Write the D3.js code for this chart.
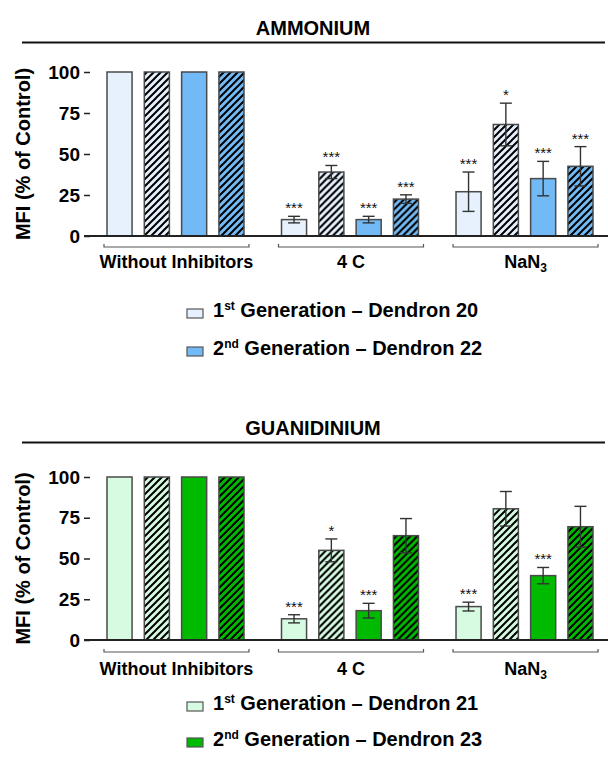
<!DOCTYPE html>
<html>
<head>
<meta charset="utf-8">
<script src="https://cdn.jsdelivr.net/npm/d3@7"></script>
<style>
  body { margin: 0; background: #fff; }
  svg { display: block; font-family: "Liberation Sans", Arial, sans-serif; }
</style>
</head>
<body>
<svg width="608" height="759"></svg>
<script>
// grupos y series
var groups = ["Without Inhibitors", "4 C", "NaN3"];
var series = ["gen1", "gen1_hatch", "gen2", "gen2_hatch"];
var yTicks = [0, 25, 50, 75, 100];

// AMMONIUM
var ammoniumValues = [[100, 100, 100, 100], [10, 39, 10, 22.5], [27, 68, 35, 42.5]];
var ammoniumErrors = [[0, 0, 0, 0], [2, 4, 2, 2.6], [12, 13, 10.5, 12]];
var ammoniumStars = [["", "", "", ""], ["***", "***", "***", "***"], ["***", "*", "***", "***"]];
var ammoniumLegend = ["Dendron 20", "Dendron 22"];

// GUANIDINIUM
var guanValues = [[100, 100, 100, 100], [13, 55, 18, 64], [20.5, 80.5, 39.5, 69.5]];
var guanErrors = [[0, 0, 0, 0], [2.5, 7, 4.5, 10.5], [2.7, 10.6, 5, 12.5]];
var guanStars = [["", "", "", ""], ["***", "*", "***", ""], ["***", "", "***", ""]];
var guanLegend = ["Dendron 21", "Dendron 23"];

var svg = d3.select("svg");
var defs = svg.append("defs");

function hatch(id, bg) {
  var p = defs.append("pattern")
    .attr("id", id)
    .attr("patternUnits", "userSpaceOnUse")
    .attr("width", 7).attr("height", 7);
  p.append("rect").attr("width", 7).attr("height", 7).attr("fill", bg);
  p.append("path")
    .attr("d", "M-1,1 l2,-2 M0,7 l7,-7 M6,8 l2,-2")
    .attr("stroke", "#000")
    .attr("stroke-width", 2);
}

hatch("hLightBlue", "#e6f1fd");
hatch("hBlue", "#72baf5");
hatch("hLightGreen", "#d6fbe1");
hatch("hGreen", "#00ba00");

var x0 = d3.scaleBand().domain(groups).range([107, 593]).paddingInner(0.215);
var x1 = d3.scaleBand().domain(series).range([0, x0.bandwidth()]).paddingInner(0.328);

function panel(cfg) {
  var g = svg.append("g");
  var y = d3.scaleLinear().domain([0, 100]).range(cfg.yRange);

  g.append("text")
    .attr("x", 313).attr("y", cfg.titleY)
    .attr("text-anchor", "middle")
    .style("font-size", "20px").style("font-weight", "bold")
    .text(cfg.title);

  g.append("line")
    .attr("x1", 22).attr("x2", 605)
    .attr("y1", cfg.titleY + 7.5).attr("y2", cfg.titleY + 7.5)
    .attr("stroke", "#111").attr("stroke-width", 2);

  // eje y
  var ax = g.append("g")
    .attr("transform", "translate(90,0)")
    .call(d3.axisLeft(y).tickValues(yTicks).tickSize(6).tickPadding(4));
  ax.select(".domain").remove();
  ax.selectAll(".tick line").attr("stroke", "#222").attr("stroke-width", 1.5);
  ax.selectAll(".tick text")
    .attr("fill", "#000")
    .style("font-size", "19px").style("font-weight", "bold")
    .style("font-family", "Liberation Sans, Arial, sans-serif");

  g.append("text")
    .attr("transform", "translate(30," + ((cfg.yRange[0] + cfg.yRange[1]) / 2) + ") rotate(-90)")
    .attr("text-anchor", "middle")
    .style("font-size", "20px").style("font-weight", "bold")
    .text("MFI (% of Control)");

  var rows = groups.map(function(grp, i) {
    return series.map(function(s, j) {
      return {group: grp, key: s, value: cfg.values[i][j], err: cfg.errors[i][j], star: cfg.stars[i][j]};
    });
  });

  var fills = {gen1: cfg.light, gen1_hatch: "url(#" + cfg.lightHatch + ")", gen2: cfg.dark, gen2_hatch: "url(#" + cfg.darkHatch + ")"};

  var grp = g.selectAll(".grp")
    .data(rows)
    .enter().append("g")
    .attr("class", "grp")
    .attr("transform", function(d) { return "translate(" + x0(d[0].group) + ",0)"; });

  var bar = grp.selectAll(".bar")
    .data(function(d) { return d; })
    .enter().append("g")
    .attr("class", "bar");

  bar.append("rect")
    .attr("x", function(d) { return x1(d.key); })
    .attr("y", function(d) { return y(d.value); })
    .attr("width", x1.bandwidth())
    .attr("height", function(d) { return y(0) - y(d.value); })
    .attr("fill", function(d) { return fills[d.key]; })
    .attr("stroke", "#4a4a4a")
    .attr("stroke-width", 1.5);

  var eb = bar.filter(function(d) { return d.err > 0; });
  var cx = function(d) { return x1(d.key) + x1.bandwidth() / 2; };

  eb.append("line")
    .attr("x1", cx).attr("x2", cx)
    .attr("y1", function(d) { return y(d.value - d.err); })
    .attr("y2", function(d) { return y(d.value + d.err); })
    .attr("stroke", "#333").attr("stroke-width", 1.4);
  [-1, 1].forEach(function(sg) {
    eb.append("line")
      .attr("x1", function(d) { return cx(d) - 6; })
      .attr("x2", function(d) { return cx(d) + 6; })
      .attr("y1", function(d) { return y(d.value + sg * d.err); })
      .attr("y2", function(d) { return y(d.value + sg * d.err); })
      .attr("stroke", "#333").attr("stroke-width", 1.4);
  });

  bar.filter(function(d) { return d.star !== ""; })
    .append("text")
    .attr("x", cx)
    .attr("y", function(d) { return y(d.value + d.err) - 3; })
    .attr("text-anchor", "middle")
    .attr("fill", "#111")
    .style("font-size", "15px")
    .text(function(d) { return d.star; });

  // linea base
  g.append("line")
    .attr("x1", 84).attr("x2", 608)
    .attr("y1", y(0)).attr("y2", y(0))
    .attr("stroke", "#222").attr("stroke-width", 2);

  // corchetes de grupo
  var by = y(0) + cfg.bracketGap;
  groups.forEach(function(name) {
    var a = x0(name) - 3, b = x0(name) + x0.bandwidth() + 5;
    g.append("path")
      .attr("d", "M" + a + "," + (by - 3) + "V" + by + "H" + b + "V" + (by - 3))
      .attr("fill", "none").attr("stroke", "#555").attr("stroke-width", 1.2);
    var t = g.append("text")
      .attr("x", (a + b) / 2).attr("y", by + cfg.labelGap)
      .attr("text-anchor", "middle")
      .style("font-size", "18px").style("font-weight", "bold");
    if (name === "NaN3") {
      t.append("tspan").text("NaN");
      t.append("tspan").attr("dy", 4).style("font-size", "12px").text("3");
    } else {
      t.text(name);
    }
  });

  // leyenda
  var legSup = ["st", "nd"];
  var legNum = ["1", "2"];
  var legCol = [cfg.light, cfg.dark];
  cfg.legend.forEach(function(lab, i) {
    var ly = cfg.legendY[i];
    g.append("rect")
      .attr("x", 187).attr("y", ly - 8)
      .attr("width", 16).attr("height", 9)
      .attr("fill", legCol[i]).attr("stroke", "#555").attr("stroke-width", 1.2);
    var t = g.append("text")
      .attr("x", 213).attr("y", ly)
      .style("font-size", "20px").style("font-weight", "bold");
    t.append("tspan").text(legNum[i]);
    t.append("tspan").attr("dy", -7).style("font-size", "12px").text(legSup[i]);
    t.append("tspan").attr("dy", 7).text(" Generation \u2013 " + lab);
  });
}

panel({
  title: "AMMONIUM", titleY: 35, yRange: [236, 72],
  values: ammoniumValues, errors: ammoniumErrors, stars: ammoniumStars,
  light: "#e6f1fd", dark: "#72baf5", lightHatch: "hLightBlue", darkHatch: "hBlue",
  bracketGap: 11, labelGap: 21, legend: ammoniumLegend, legendY: [317, 355]
});

panel({
  title: "GUANIDINIUM", titleY: 435, yRange: [640, 477],
  values: guanValues, errors: guanErrors, stars: guanStars,
  light: "#d6fbe1", dark: "#00ba00", lightHatch: "hLightGreen", darkHatch: "hGreen",
  bracketGap: 12, labelGap: 23, legend: guanLegend, legendY: [710, 746]
});
</script>
</body>
</html>
